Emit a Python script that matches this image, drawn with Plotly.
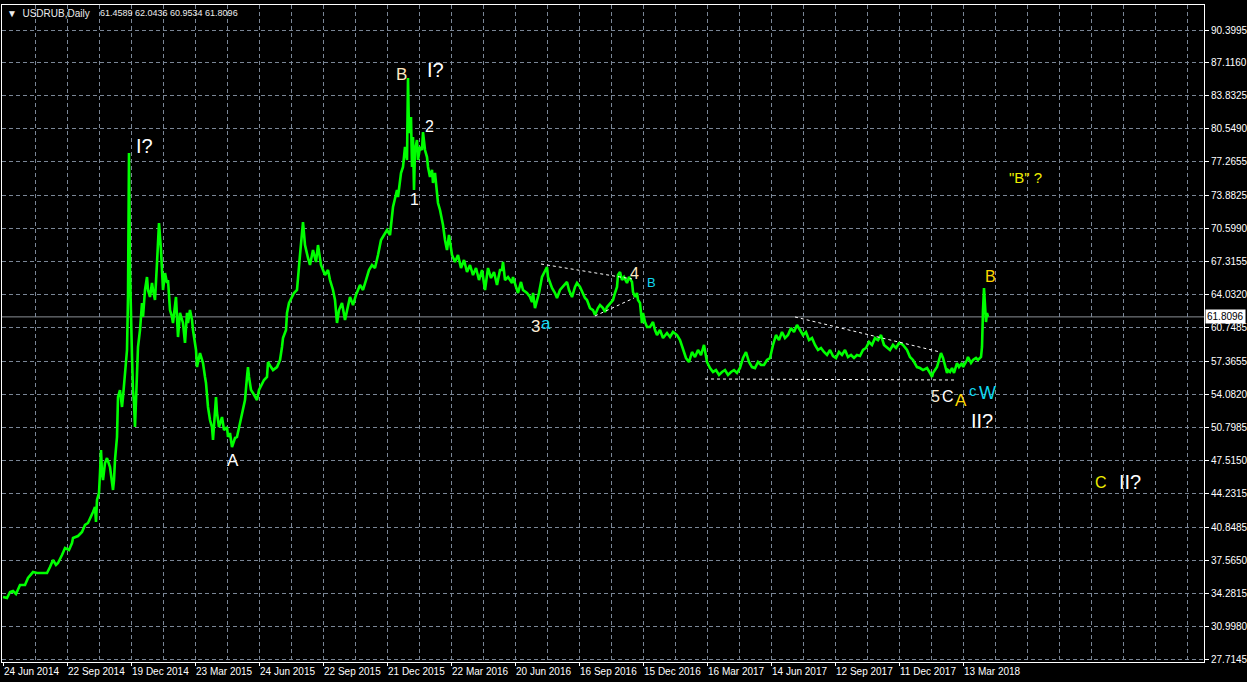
import plotly.graph_objects as go

# ---------------- data ----------------
bar_index = [
    0, 4, 7, 10, 13, 17, 22, 25, 30, 34, 39, 44, 47, 50, 53, 55, 59, 62, 66, 69, 70, 75, 79, 82, 85, 88, 90, 92, 93, 94,
    96, 97, 98, 99, 100, 102, 104, 107, 110, 111, 112, 114, 115, 117, 119, 120, 122, 124, 125, 126, 127, 128, 129, 130,
    131, 132, 134, 135, 137, 139, 140, 142, 144, 145, 147, 149, 150, 152, 154, 155, 156, 158, 159, 160, 162, 164, 165,
    167, 169, 170, 173, 174, 175, 177, 180, 182, 184, 185, 187, 189, 190, 193, 194, 197, 200, 202, 203, 205, 207, 209,
    210, 213, 214, 216, 219, 221, 224, 225, 227, 229, 230, 232, 234, 236, 239, 240, 242, 244, 245, 246, 248, 250, 252,
    254, 256, 259, 261, 264, 265, 268, 270, 274, 277, 279, 280, 283, 284, 286, 289, 291, 294, 295, 297, 300, 302, 305,
    307, 310, 313, 315, 318, 322, 325, 327, 330, 332, 334, 336, 339, 342, 345, 347, 350, 353, 357, 360, 363, 366, 369,
    372, 375, 378, 381, 384, 387, 390, 394, 395, 398, 400, 402, 404, 405, 406, 408, 409, 410, 411, 412, 414, 415, 417,
    419, 420, 422, 424, 425, 427, 429, 430, 432, 434, 435, 437, 440, 442, 444, 446, 449, 452, 455, 458, 461, 464, 467,
    470, 473, 476, 479, 482, 485, 488, 491, 494, 497, 499, 500, 502, 505, 509, 510, 513, 515, 518, 520, 524, 527, 529,
    530, 532, 534, 536, 539, 542, 544, 545, 549, 552, 554, 557, 560, 564, 566, 569, 572, 574, 577, 580, 582, 584, 587,
    590, 592, 595, 597, 600, 602, 604, 607, 610, 612, 614, 615, 617, 619, 621, 624, 626, 629, 630, 632, 634, 635, 637,
    639, 640, 642, 644, 647, 650, 652, 654, 657, 660, 664, 667, 670, 674, 677, 680, 683, 686, 689, 692, 695, 698, 701,
    704, 707, 710, 713, 716, 719, 722, 725, 728, 731, 734, 737, 740, 743, 746, 749, 752, 755, 758, 761, 764, 767, 770,
    773, 776, 779, 782, 785, 788, 791, 794, 797, 800, 803, 806, 809, 812, 815, 818, 821, 824, 827, 830, 833, 836, 839,
    842, 845, 848, 851, 854, 857, 860, 863, 866, 869, 872, 875, 878, 881, 884, 887, 890, 893, 896, 897, 900, 904, 907,
    910, 914, 917, 920, 924, 927, 929, 930, 932, 934, 936, 938, 940, 942, 944, 945, 947, 949, 951, 954, 956, 959, 960,
    964, 965, 968, 970, 973, 975, 978, 979, 980, 981, 982, 983, 984, 985,
]
close_price = [
    33.89, 33.79, 34.39, 34.49, 34.19, 35.09, 35.09, 35.79, 36.38, 36.28, 36.28, 36.28, 36.88, 37.58, 37.08, 37.28, 38.08,
    38.78, 38.58, 39.27, 39.77, 39.97, 40.37, 41.07, 41.27, 41.86, 42.36, 42.86, 41.37, 43.56, 44.26, 46.25, 48.54, 46.25,
    45.55, 47.25, 47.74, 46.85, 44.56, 45.55, 47.55, 49.84, 53.82, 54.52, 52.83, 53.82, 55.82, 58.51, 63.79, 78.14, 66.48,
    60.50, 57.81, 54.52, 53.23, 50.83, 55.22, 58.81, 60.50, 63.19, 61.80, 64.49, 65.78, 64.49, 63.79, 65.19, 64.49, 63.49,
    67.18, 68.77, 71.16, 68.47, 66.48, 64.49, 66.18, 65.19, 65.48, 62.49, 61.80, 61.20, 63.79, 61.20, 59.80, 62.20, 61.20,
    59.21, 62.20, 61.20, 62.49, 61.50, 60.50, 58.51, 56.81, 58.21, 57.21, 55.82, 55.22, 52.83, 51.53, 50.83, 49.54, 53.82,
    52.23, 50.83, 51.83, 50.53, 50.83, 49.84, 50.24, 48.84, 49.24, 49.74, 49.84, 50.83, 52.23, 52.83, 53.52, 55.82, 56.81,
    55.82, 54.52, 54.22, 53.82, 53.52, 54.52, 55.22, 55.52, 55.82, 57.31, 56.81, 56.51, 56.81, 57.51, 58.81, 59.70, 60.50,
    62.20, 63.19, 63.79, 64.19, 64.49, 65.48, 67.98, 71.26, 68.97, 67.68, 66.98, 68.47, 67.28, 68.97, 66.98, 65.98, 66.48,
    65.48, 64.49, 63.49, 61.20, 62.49, 63.19, 61.50, 62.79, 63.79, 62.99, 63.99, 64.99, 64.49, 65.48, 66.48, 66.98, 66.68,
    67.98, 69.47, 69.97, 70.47, 69.97, 72.76, 74.45, 73.76, 76.15, 76.75, 78.74, 77.44, 85.62, 80.13, 81.73, 76.75, 79.74,
    74.45, 78.44, 79.44, 77.44, 78.74, 78.44, 80.23, 78.44, 77.74, 76.75, 75.75, 76.45, 75.15, 76.15, 74.15, 73.16, 72.46,
    70.97, 69.47, 68.47, 69.97, 67.98, 67.28, 67.98, 66.68, 67.48, 66.28, 66.98, 65.98, 66.68, 65.48, 66.48, 64.49, 66.68,
    65.68, 66.28, 64.99, 66.48, 66.48, 67.28, 65.48, 65.78, 65.19, 65.78, 64.79, 64.19, 65.29, 64.49, 64.19, 63.79, 63.29,
    64.19, 62.69, 63.49, 64.19, 65.78, 66.48, 66.78, 65.78, 64.69, 64.19, 63.69, 64.49, 64.79, 65.29, 64.49, 63.79, 64.79,
    65.19, 64.79, 64.19, 63.69, 63.49, 62.69, 62.49, 62.00, 62.69, 62.99, 62.69, 62.30, 62.79, 63.19, 63.49, 64.19, 64.79,
    65.98, 66.28, 65.48, 65.78, 65.19, 65.78, 65.29, 64.29, 63.79, 64.19, 63.49, 63.19, 61.20, 62.20, 61.30, 60.80, 60.80,
    61.30, 60.50, 60.00, 60.50, 59.70, 60.20, 59.80, 60.30, 60.00, 59.50, 58.51, 57.71, 57.31, 58.31, 57.81, 58.51, 58.01,
    59.01, 57.31, 56.71, 56.32, 56.51, 56.02, 56.32, 56.51, 56.02, 56.32, 56.51, 56.22, 56.71, 57.71, 58.31, 57.31, 56.81,
    56.71, 57.31, 57.01, 57.01, 57.51, 57.71, 59.01, 60.00, 59.50, 60.30, 59.70, 60.00, 60.70, 60.30, 61.00, 60.50, 60.00,
    60.30, 59.50, 59.70, 59.01, 58.51, 58.71, 58.31, 58.01, 58.51, 57.91, 57.71, 58.31, 58.01, 58.51, 57.81, 58.01, 57.71,
    58.01, 57.91, 58.51, 58.71, 59.31, 59.01, 59.70, 59.50, 60.00, 59.01, 58.71, 58.51, 59.01, 58.71, 59.21, 59.21, 59.01,
    58.51, 57.81, 57.51, 56.81, 56.71, 56.51, 56.71, 56.22, 55.82, 56.22, 56.51, 56.81, 57.51, 58.21, 57.71, 56.81, 56.22,
    56.51, 56.32, 56.71, 56.22, 57.21, 56.81, 57.21, 56.81, 57.51, 57.81, 57.21, 57.51, 57.71, 57.51, 57.81, 58.81, 62.49,
    64.69, 62.99, 61.30, 62.20, 61.81,
]

last_price = 61.8096
header_symbol = "USDRUB,Daily"
header_values = "61.4589 62.0436 60.9534 61.8096"

price_ticks = [90.3995, 87.1160, 83.8325, 80.5490, 77.2655, 73.8825, 70.5990, 67.3155, 64.0320, 60.7485,
               57.3655, 54.0820, 50.7985, 47.5150, 44.2315, 40.8485, 37.5650, 34.2815, 30.9980, 27.7145]

date_tick_bars = [0, 64, 128, 192, 256, 320, 384, 448, 512, 576, 640, 704, 768, 832, 896, 960]
date_tick_labels = ["24 Jun 2014", "22 Sep 2014", "19 Dec 2014", "23 Mar 2015", "24 Jun 2015", "22 Sep 2015",
                    "21 Dec 2015", "22 Mar 2016", "20 Jun 2016", "16 Sep 2016", "15 Dec 2016", "16 Mar 2017",
                    "14 Jun 2017", "12 Sep 2017", "11 Dec 2017", "13 Mar 2018"]

# wave labels: text, bar, price, colour, size
wave_text = ["I?", "B", "I?", "2", "1", "A", "3", "a", "4", "B", "5", "C", "A", "c", "W", "II?", "B", "\"B\" ?", "C", "II?"]
wave_bar = [141, 398, 432, 426, 411, 230, 532, 543, 631, 648, 932, 945, 958, 970, 984, 979, 987, 1022, 1098, 1127]
wave_price = [78.84, 85.92, 86.41, 80.83, 73.46, 47.45, 60.90, 61.20, 66.18, 65.19, 53.92, 53.92, 53.52, 54.52, 54.22,
              51.43, 65.88, 75.75, 45.35, 45.35]
wave_color = ["#ffffff", "#ffe8c0", "#ffffff", "#ffffff", "#ffffff", "#ffffff", "#ffefd8", "#10d8f0", "#ffe8c0",
              "#10d8f0", "#ffefd8", "#ffffff", "#ffd700", "#10d8f0", "#10d8f0", "#ffffff", "#ffd700", "#eeee00",
              "#eeee00", "#ffffff"]
wave_size = [20, 17, 20, 16, 16, 17, 17, 17, 16, 13, 16, 16, 17, 15, 18, 20, 16, 15, 16, 20]

# trend lines: (bar0, price0, bar1, price1)
trend_lines = [
    (538, 67.08, 629, 65.59),
    (592, 61.90, 631, 63.69),
    (792, 61.80, 937, 58.31),
    (702, 55.62, 952, 55.52),
]

# ---------------- figure ----------------
FONT = "Liberation Sans, Arial, sans-serif"
GRID = "#7a8696"

fig = go.Figure()
fig.add_trace(go.Scatter(x=bar_index, y=close_price, mode="lines",
                         line=dict(color="#00ff00", width=2.6), hoverinfo="skip", showlegend=False))

shapes = []
# current price line
shapes.append(dict(type="line", xref="paper", x0=0, x1=1, yref="y", y0=last_price, y1=last_price,
                   line=dict(color="#8a8f96", width=1), layer="below"))
for b0, p0, b1, p1 in trend_lines:
    shapes.append(dict(type="line", xref="x", yref="y", x0=b0, y0=p0, x1=b1, y1=p1,
                       line=dict(color="#ffffff", width=1, dash="3px,3px")))

annotations = []
for t, b, p, c, s in zip(wave_text, wave_bar, wave_price, wave_color, wave_size):
    annotations.append(dict(text=t, x=b, y=p, xref="x", yref="y", showarrow=False,
                            font=dict(family=FONT, size=s, color=c), xanchor="center", yanchor="middle"))
annotations.append(dict(text="\u25bc  " + header_symbol, xref="paper", yref="paper", x=0, y=1,
                        xanchor="left", yanchor="top", xshift=3, yshift=-1, showarrow=False,
                        font=dict(family=FONT, size=10, color="#ececec")))
annotations.append(dict(text=header_values, xref="paper", yref="paper", x=0, y=1,
                        xanchor="left", yanchor="top", xshift=96, yshift=-1, showarrow=False,
                        font=dict(family=FONT, size=9, color="#ececec")))
annotations.append(dict(text="%.4f" % last_price, xref="paper", yref="y", x=1, y=last_price,
                        xanchor="left", yanchor="middle", xshift=1, showarrow=False, bgcolor="#ffffff",
                        borderpad=1, font=dict(family=FONT, size=10, color="#000000")))

fig.update_layout(
    width=1247, height=682,
    margin=dict(l=2, r=43, t=5, b=20, autoexpand=False),
    paper_bgcolor="#000000", plot_bgcolor="#000000",
    shapes=shapes, annotations=annotations,
    showlegend=False,
    xaxis=dict(range=[-1, 1201], tickmode="array", tickvals=date_tick_bars, ticktext=date_tick_labels,
               ticklabelposition="outside right", tickangle=0, ticks="outside", ticklen=3, tickcolor="#ffffff",
               tickfont=dict(family=FONT, size=10, color="#ffffff"), automargin=False,
               showgrid=True, gridcolor=GRID, griddash="4px,3px", gridwidth=1,
               minor=dict(dtick=32, tick0=0, showgrid=True, gridcolor=GRID, griddash="4px,3px", ticks=""),
               showline=True, linecolor="#ffffff", linewidth=1, mirror=True, zeroline=False, fixedrange=True),
    yaxis=dict(range=[27.4155, 92.891], side="right", tickmode="array", tickvals=price_ticks,
               ticktext=["%.4f" % v for v in price_ticks], ticks="outside", ticklen=4, tickcolor="#ffffff",
               tickfont=dict(family=FONT, size=10, color="#ffffff"), automargin=False,
               showgrid=True, gridcolor=GRID, griddash="4px,3px", gridwidth=1,
               showline=True, linecolor="#ffffff", linewidth=1, mirror=True, zeroline=False, fixedrange=True),
)

fig.write_html("out.html", config={"displayModeBar": False, "staticPlot": True},
               post_script="document.body.style.margin='0';document.body.style.overflow='hidden';")
